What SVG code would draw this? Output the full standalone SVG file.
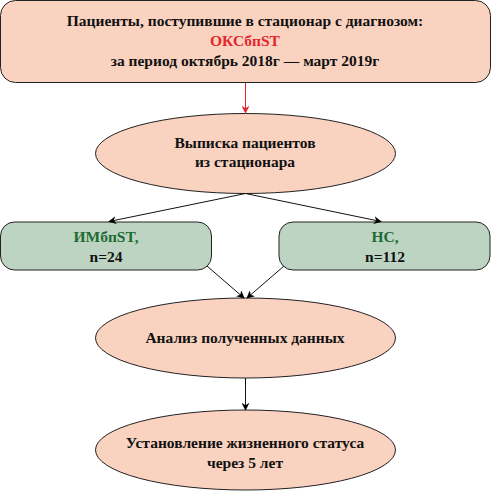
<svg xmlns="http://www.w3.org/2000/svg" width="491" height="491" viewBox="0 0 491 491">
<defs>
<marker id="ab" viewBox="0 0 10 10" refX="9" refY="5" markerWidth="8" markerHeight="8" markerUnits="userSpaceOnUse" orient="auto"><path d="M0,0 L10,5 L0,10 L3,5 Z" fill="#000"/></marker>
<marker id="ar" viewBox="0 0 10 10" refX="9" refY="5" markerWidth="8" markerHeight="8" markerUnits="userSpaceOnUse" orient="auto"><path d="M0,0 L10,5 L0,10 L3,5 Z" fill="#e3262b"/></marker>
</defs>
<style>
.peach{fill:#fad2c0;stroke:#222;stroke-width:1}
.green{fill:#bed4c2;stroke:#222;stroke-width:1}
text{font-family:'Liberation Serif','DejaVu Serif',serif;font-weight:bold;font-size:15.5px;text-anchor:middle;fill:#111}
.red{fill:#e3262b}
.grn{fill:#1d6a33}
.edge{stroke:#111;stroke-width:1;fill:none;marker-end:url(#ab)}
</style>
<g id="n1">
<rect class="peach" x="0.5" y="0.5" width="490" height="82" rx="15"/>
<text x="245" y="26">Пациенты, поступившие в стационар с диагнозом:</text>
<text x="245" y="46" class="red">ОКСбпST</text>
<text x="245" y="66">за период октябрь 2018г — март 2019г</text>
</g>
<g id="n2">
<ellipse class="peach" cx="245.5" cy="153.5" rx="150" ry="40"/>
<text x="245" y="148">Выписка пациентов</text>
<text x="245" y="167">из стационара</text>
</g>
<g id="n3">
<rect class="green" x="0.5" y="222" width="211" height="48" rx="14"/>
<text x="106" y="242" class="grn">ИМбпST,</text>
<text x="106" y="262">n=24</text>
</g>
<g id="n4">
<rect class="green" x="279" y="222" width="211" height="48" rx="14"/>
<text x="385" y="242" class="grn">НС,</text>
<text x="385" y="262">n=112</text>
</g>
<g id="n5">
<ellipse class="peach" cx="245.5" cy="338" rx="150" ry="40"/>
<text x="245" y="343">Анализ полученных данных</text>
</g>
<g id="n6">
<ellipse class="peach" cx="245.5" cy="450" rx="150" ry="40"/>
<text x="245" y="448">Установление жизненного статуса</text>
<text x="245" y="468">через 5 лет</text>
</g>
<g id="edges">
<path d="M245.5,83 L245.5,113" style="stroke:#e3262b;stroke-width:1;fill:none;marker-end:url(#ar)"/>
<path class="edge" d="M245.5,193.5 L109,221.5"/>
<path class="edge" d="M245.5,193.5 L381,221.5"/>
<path class="edge" d="M207,266 L244,298"/>
<path class="edge" d="M284,266 L247,298"/>
<path class="edge" d="M245.5,378 L245.5,410"/>
</g>
</svg>
